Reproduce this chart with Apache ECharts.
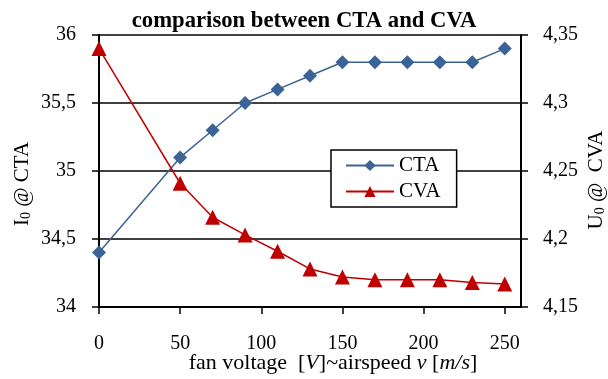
<!DOCTYPE html>
<html><head><meta charset="utf-8">
<script src="https://cdn.jsdelivr.net/npm/echarts@6/dist/echarts.min.js"></script>
<style>html,body{margin:0;padding:0;background:#fff}#c{width:608px;height:379px}</style>
</head><body><div id="c"></div>
<script>
const xValues = [0, 50, 70, 90, 110, 130, 150, 170, 190, 210, 230, 250];
const ctaValues = [34.4, 35.1, 35.3, 35.5, 35.6, 35.7, 35.8, 35.8, 35.8, 35.8, 35.8, 35.9];
const cvaValues = [4.34, 4.241, 4.216, 4.203, 4.191, 4.178, 4.172, 4.170, 4.170, 4.170, 4.168, 4.167];
const titleText = 'comparison between CTA and CVA';

const F = 'Liberation Serif, Times New Roman, serif';
const comma = v => String(+v.toFixed(2)).replace('.', ',');
const chart = echarts.init(document.getElementById('c'), null, {renderer: 'canvas'});
chart.setOption({
  backgroundColor: '#fff',
  animation: false,
  title: {text: titleText, left: 'center', top: 5,
    textStyle: {fontFamily: F, fontSize: 22.7, fontWeight: 'bold', color: '#000'}},
  legend: {
    orient: 'vertical', left: 331, top: 150, itemWidth: 48, itemHeight: 14, itemGap: 5,
    padding: [5, 16, 5, 14], borderColor: '#000', borderWidth: 1.5, backgroundColor: '#fff',
    textStyle: {fontFamily: F, fontSize: 21, color: '#000'},
    data: ['CTA', 'CVA']
  },
  grid: {left: 99, right: 87, top: 35, bottom: 72, containLabel: false, outerBoundsMode: 'none'},
  xAxis: {
    type: 'value', min: 0, max: 260, interval: 50,
    name: 'fan voltage  [{i|V}]~airspeed {i|v} [{i|m/s}]',
    nameLocation: 'middle', nameGap: 45, nameMoveOverlap: false,
    nameTextStyle: {fontFamily: F, fontSize: 22, color: '#000', padding: [0, 0, 0, 46],
      rich: {i: {fontFamily: F, fontSize: 22, fontStyle: 'italic', color: '#000'}}},
    axisLine: {lineStyle: {color: '#000', width: 2}},
    axisTick: {show: true, length: 7, lineStyle: {color: '#000', width: 1.5}},
    axisLabel: {fontFamily: F, fontSize: 20, color: '#000', margin: 27, showMaxLabel: false},
    splitLine: {show: false}
  },
  yAxis: [{
    type: 'value', min: 34, max: 36, interval: 0.5, position: 'left',
    name: 'I{s|0} @ CTA', nameLocation: 'middle', nameGap: 66, nameRotate: 90, nameMoveOverlap: false,
    nameTextStyle: {fontFamily: F, fontSize: 21, color: '#000', padding: [0, 26, 0, 0],
      rich: {s: {fontFamily: F, fontSize: 14, color: '#000', verticalAlign: 'bottom', padding: [8, 0, 0, 0]}}},
    axisLine: {show: true, lineStyle: {color: '#000', width: 2}},
    axisTick: {show: true, length: 7, lineStyle: {color: '#000', width: 1.5}},
    axisLabel: {fontFamily: F, fontSize: 20, color: '#000', margin: 23, formatter: comma},
    splitLine: {show: true, lineStyle: {color: '#000', width: 1.5}}
  }, {
    type: 'value', min: 4.15, max: 4.35, interval: 0.05, position: 'right',
    name: 'U{s|0} @  CVA', nameLocation: 'middle', nameGap: 64, nameRotate: 90, nameMoveOverlap: false,
    nameTextStyle: {fontFamily: F, fontSize: 21, color: '#000', padding: [0, 18, 0, 0],
      rich: {s: {fontFamily: F, fontSize: 14, color: '#000', verticalAlign: 'bottom', padding: [8, 0, 0, 0]}}},
    axisLine: {show: true, lineStyle: {color: '#000', width: 2}},
    axisTick: {show: true, length: 7, lineStyle: {color: '#000', width: 1.5}},
    axisLabel: {fontFamily: F, fontSize: 20, color: '#000', margin: 22, formatter: comma},
    splitLine: {show: false}
  }],
  series: [{
    name: 'CTA', type: 'line', yAxisIndex: 0,
    data: xValues.map((x, i) => [x, ctaValues[i]]),
    symbol: 'diamond', symbolSize: 14, showAllSymbol: true,
    itemStyle: {color: '#3B6396'}, lineStyle: {color: '#3B6396', width: 1.5}
  }, {
    name: 'CVA', type: 'line', yAxisIndex: 1,
    data: xValues.map((x, i) => [x, cvaValues[i]]),
    symbol: 'triangle', symbolSize: 15, showAllSymbol: true,
    itemStyle: {color: '#C00000'}, lineStyle: {color: '#C00000', width: 1.5}
  }]
});
</script></body></html>
